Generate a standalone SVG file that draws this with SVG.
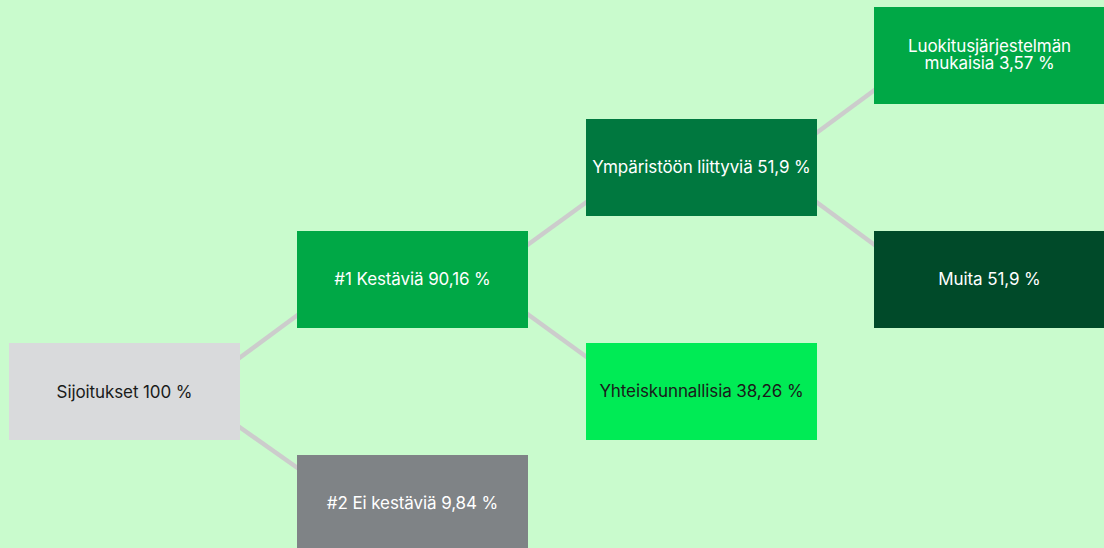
<svg xmlns="http://www.w3.org/2000/svg" width="1104" height="548" viewBox="0 0 1104 548">
<style>
.t{font-family:Inter,"Liberation Sans",Arial,sans-serif;font-size:17px;letter-spacing:-0.1px;text-anchor:middle}
.w{fill:#ffffff}
.d{fill:#1a1a1a}
.c{stroke:#cccccc;stroke-width:4.5;fill:none}
</style>
<rect width="1104" height="548" fill="#c9fbcd"/>
<g id="connectors">
<line class="c" x1="238" y1="359" x2="299" y2="314"/>
<line class="c" x1="238" y1="426" x2="299" y2="469"/>
<line class="c" x1="526" y1="246" x2="588" y2="201"/>
<line class="c" x1="526" y1="313" x2="588" y2="358"/>
<line class="c" x1="815" y1="134" x2="876" y2="89"/>
<line class="c" x1="815" y1="201" x2="876" y2="246"/>
</g>
<g id="sijoitukset"><rect x="9" y="343" width="231" height="97" fill="#d9dadc"/><text class="t d" x="124.5" y="397.5">Sijoitukset 100 %</text></g>
<g id="kestavia"><rect x="297" y="231" width="231" height="97" fill="#00a846"/><text class="t w" x="412.5" y="285">#1 Kestäviä 90,16 %</text></g>
<g id="ei-kestavia"><rect x="297" y="455" width="231" height="97" fill="#7f8386"/><text class="t w" x="412.5" y="509">#2 Ei kestäviä 9,84 %</text></g>
<g id="ymparisto"><rect x="586" y="119" width="231" height="97" fill="#00783f"/><text class="t w" x="701.5" y="173">Ympäristöön liittyviä 51,9 %</text></g>
<g id="yhteiskunnallisia"><rect x="586" y="343" width="231" height="97" fill="#00eb55"/><text class="t d" x="701.5" y="397">Yhteiskunnallisia 38,26 %</text></g>
<g id="luokitus"><rect x="874" y="7" width="231" height="97" fill="#00a846"/><text class="t w" x="989.5" y="51.5">Luokitusjärjestelmän</text><text class="t w" x="989.5" y="68.5">mukaisia 3,57 %</text></g>
<g id="muita"><rect x="874" y="231" width="231" height="97" fill="#004a29"/><text class="t w" x="989.5" y="285">Muita 51,9 %</text></g>
</svg>
